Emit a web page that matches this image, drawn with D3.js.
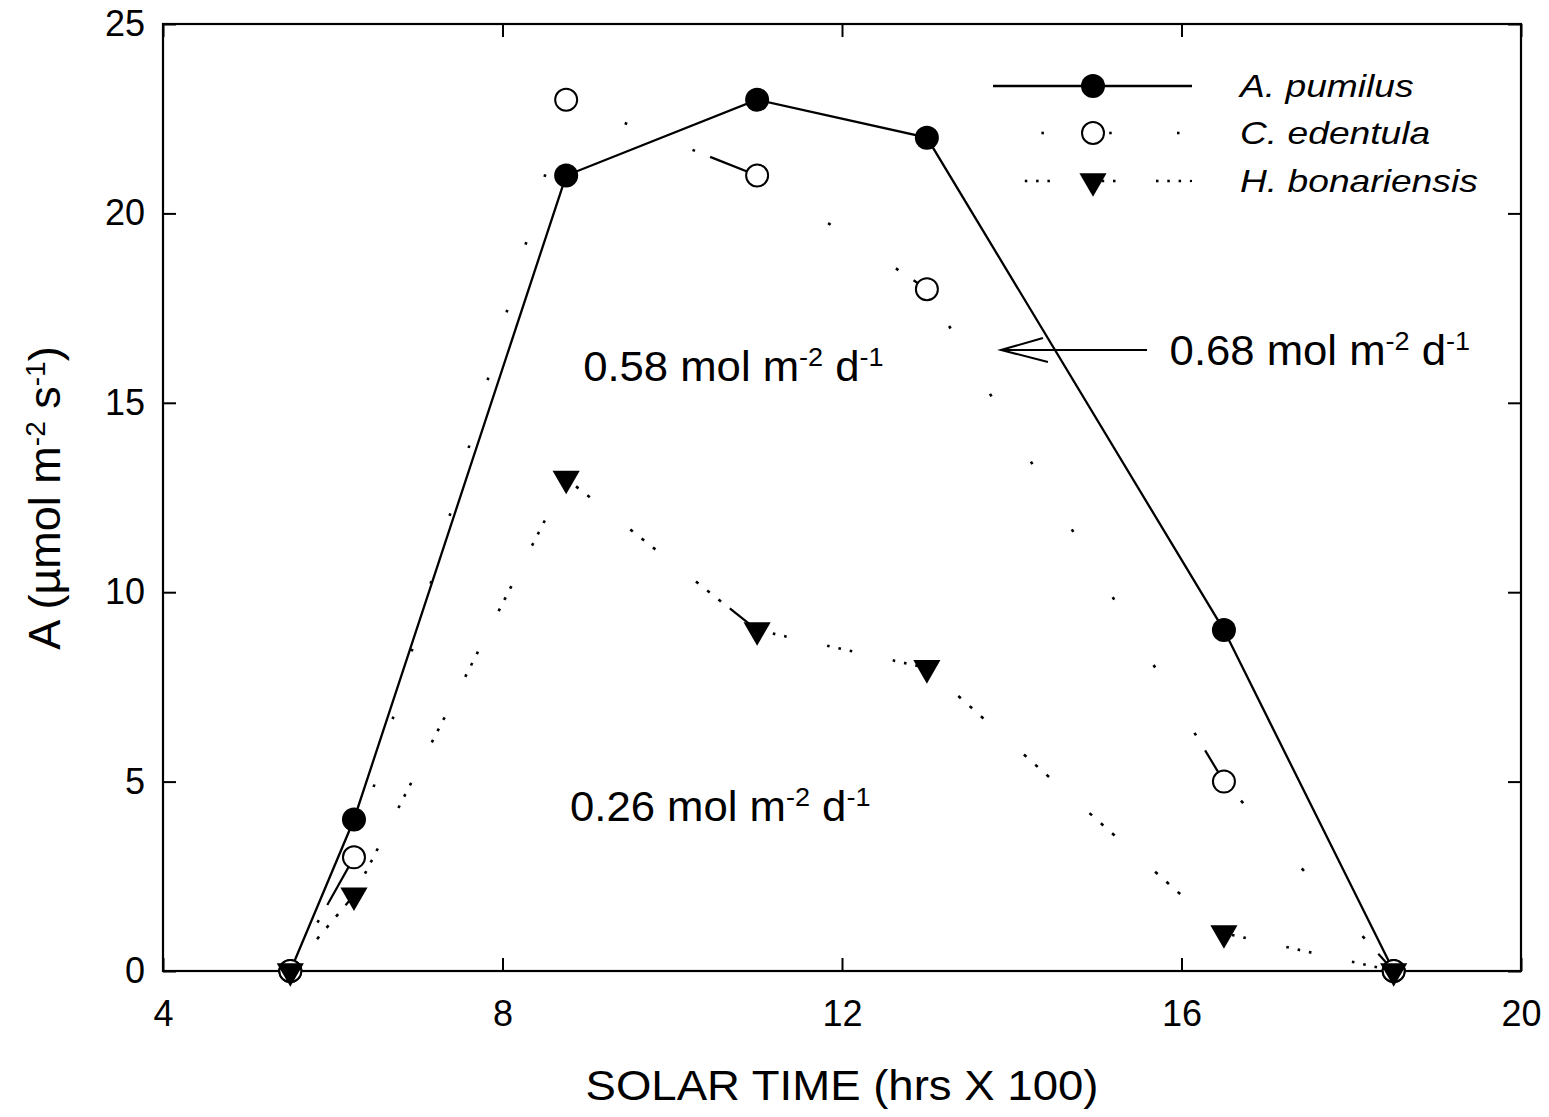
<!DOCTYPE html>
<html><head><meta charset="utf-8">
<script src="https://cdn.jsdelivr.net/npm/d3@7"></script>
<style>
body{margin:0;background:#fff}
svg{display:block}
text{font-family:"Liberation Sans", Arial, Helvetica, sans-serif; fill:#000}
</style>
</head><body>
<svg id="chart" width="1549" height="1117"></svg>
<script>
// ---- data ----
const solarTime = [5.5, 6.25, 8.75, 11, 13, 16.5, 18.5];
const aPumilus = [0, 4, 21, 23, 22, 9, 0];
const cEdentula = [0, 3, 23, 21, 18, 5, 0];
const hBonariensis = [0, 2, 13, 9, 8, 1, 0];
const seriesNames = ["A. pumilus", "C. edentula", "H. bonariensis"];
const xTicks = [4, 8, 12, 16, 20];
const yTicks = [0, 5, 10, 15, 20, 25];
const dailyTotals = ["0.58", "0.68", "0.26"];
const xTitle = "SOLAR TIME (hrs X 100)";

// ---- setup ----
const svg = d3.select("#chart");
const L = 163, R = 1521, T = 24, B = 971;
const X = d3.scaleLinear().domain([4, 20]).range([L, R]);
const Y = d3.scaleLinear().domain([0, 25]).range([B, T]);

// frame
svg.append("rect").attr("x", L).attr("y", T).attr("width", R - L).attr("height", B - T)
  .attr("fill", "none").attr("stroke", "#000").attr("stroke-width", 2.2);

function styleAxis(g, fontSize) {
  g.select(".domain").remove();
  g.selectAll(".tick line").attr("stroke", "#000").attr("stroke-width", 2);
  g.attr("font-family", null).attr("font-size", null);
  g.selectAll("text").style("font-size", fontSize + "px");
}
const tickLen = 13;
svg.append("g").attr("transform", `translate(0,${B})`)
  .call(d3.axisBottom(X).tickValues(xTicks).tickSizeInner(-tickLen).tickSizeOuter(0).tickPadding(29))
  .call(g => styleAxis(g, 36));
svg.append("g").attr("transform", `translate(${L},0)`)
  .call(d3.axisLeft(Y).tickValues(yTicks).tickSizeInner(-tickLen).tickSizeOuter(0).tickPadding(18))
  .call(g => styleAxis(g, 36));
svg.append("g").attr("transform", `translate(0,${T})`)
  .call(d3.axisTop(X).tickValues(xTicks).tickSizeInner(-tickLen).tickSizeOuter(0).tickFormat(""))
  .call(g => styleAxis(g, 36));
svg.append("g").attr("transform", `translate(${R},0)`)
  .call(d3.axisRight(Y).tickValues(yTicks).tickSizeInner(-tickLen).tickSizeOuter(0).tickFormat(""))
  .call(g => styleAxis(g, 36));

// ---- line patterns (measured along the major axis, like the original plotter) ----
const patC = {period: 67.8, phase: 48.4, dots: [0], dotLen: 2.5, solidFrom: 17.6};
const patH = {period: 65.6, phase: 31.8, dots: [0, 11.3, 22.6], dotLen: 2.5, solidFrom: 33.9};

function patterned(g, pts, pat, sw) {
  let s0 = 0;
  for (let i = 0; i < pts.length - 1; i++) {
    const [x0, y0] = pts[i], [x1, y1] = pts[i + 1];
    const dx = x1 - x0, dy = y1 - y0, M = Math.max(Math.abs(dx), Math.abs(dy));
    if (M === 0) continue;
    const ux = dx / M, uy = dy / M, s1 = s0 + M;
    const at = s => [x0 + ux * (s - s0), y0 + uy * (s - s0)];
    const seg = (a, b, dot) => {
      const p = at(a), q = at(b);
      g.append("line").attr("x1", p[0]).attr("y1", p[1]).attr("x2", q[0]).attr("y2", q[1])
        .attr("stroke", "#000").attr("stroke-width", dot ? sw + 0.4 : sw).attr("stroke-linecap", "butt");
    };
    let lastG = null;
    const kStart = Math.floor((s0 - pat.phase) / pat.period) - 1;
    for (let k = kStart; ; k++) {
      const gs = pat.phase + k * pat.period;
      if (gs >= s1) break;
      pat.dots.forEach(o => {
        const p = gs + o;
        if (p >= s0 && p < s1) seg(p, Math.min(p + pat.dotLen, s1), true);
      });
      lastG = gs;
    }
    if (lastG !== null && lastG + pat.solidFrom < s1) {
      seg(Math.max(s0, lastG + pat.solidFrom), s1, false);
    }
    s0 = s1;
  }
}

const lines = svg.append("g");
const ptsA = solarTime.map((t, i) => [X(t), Y(aPumilus[i])]);
const ptsC = solarTime.map((t, i) => [X(t), Y(cEdentula[i])]);
const ptsH = solarTime.map((t, i) => [X(t), Y(hBonariensis[i])]);

lines.append("path").attr("d", d3.line()(ptsA)).attr("fill", "none")
  .attr("stroke", "#000").attr("stroke-width", 2.3);
patterned(lines, ptsC, patC, 2.2);
patterned(lines, ptsH, patH, 2.2);

// ---- markers ----
const tri = d3.symbol().type(d3.symbolTriangle).size(320);
function markFilled(g, x, y) {
  g.append("circle").attr("cx", x).attr("cy", y).attr("r", 12).attr("fill", "#000");
}
function markOpen(g, x, y) {
  g.append("circle").attr("cx", x).attr("cy", y).attr("r", 11).attr("fill", "#fff")
    .attr("stroke", "#000").attr("stroke-width", 2);
}
function markTri(g, x, y) {
  g.append("path").attr("d", tri()).attr("transform", `translate(${x},${y}) rotate(180)`)
    .attr("fill", "#000");
}
const marks = svg.append("g");
ptsA.forEach(p => markFilled(marks, p[0], p[1]));
ptsC.forEach(p => markOpen(marks, p[0], p[1]));
ptsH.forEach(p => markTri(marks, p[0], p[1]));

// ---- legend ----
const lg = svg.append("g");
const lgX0 = 993, lgX1 = 1192, lgXm = 1093, lgTextX = 1240;
const rows = [86, 133, 181];
lg.append("line").attr("x1", lgX0).attr("x2", lgX1).attr("y1", rows[0]).attr("y2", rows[0])
  .attr("stroke", "#000").attr("stroke-width", 2.3);
patterned(lg, [[lgX0, rows[1]], [lgX1, rows[1]]], patC, 2.2);
patterned(lg, [[lgX0, rows[2]], [lgX1, rows[2]]], patH, 2.2);
markFilled(lg, lgXm, rows[0]);
markOpen(lg, lgXm, rows[1]);
markTri(lg, lgXm, rows[2]);
seriesNames.forEach((n, i) => {
  lg.append("text").attr("transform", `translate(${lgTextX},${rows[i] + 11}) scale(1.2,1)`)
    .style("font-size", "31px").style("font-style", "italic").text(n);
});

// ---- superscript text helper ----
function supText(g, x, y, parts, size, supSize, shift, sx, rotate) {
  const t = g.append("text")
    .attr("transform", `translate(${x},${y})` + (rotate ? ` rotate(${rotate})` : "") + ` scale(${sx},1)`)
    .style("font-size", size + "px");
  if (rotate) t.attr("text-anchor", "middle");
  let up = false;
  parts.forEach(p => {
    const ts = t.append("tspan").text(p.t);
    if (p.sup) { ts.style("font-size", supSize + "px").attr("dy", -shift); up = true; }
    else if (up) { ts.attr("dy", shift); up = false; }
  });
  return t;
}
const unitParts = v => [{t: v + " mol m"}, {t: "-2", sup: true}, {t: " d"}, {t: "-1", sup: true}];
const ann = svg.append("g");
supText(ann, X(8.95), Y(15.58), unitParts(dailyTotals[0]), 42, 26, 15, 1.04);
supText(ann, X(15.86), Y(16.0), unitParts(dailyTotals[1]), 42, 26, 15, 1.04);
supText(ann, X(8.795), Y(3.96), unitParts(dailyTotals[2]), 42, 26, 15, 1.04);

// arrow
const tipX = X(13.873), tipY = Y(16.394), tailX = X(15.594);
ann.append("line").attr("x1", tipX).attr("y1", tipY).attr("x2", tailX).attr("y2", tipY)
  .attr("stroke", "#000").attr("stroke-width", 2);
ann.append("path").attr("d", `M${tipX + 42},${tipY - 12} L${tipX},${tipY} L${tipX + 47},${tipY + 12}`)
  .attr("fill", "none").attr("stroke", "#000").attr("stroke-width", 2);

// ---- axis titles ----
svg.append("text").attr("x", (L + R) / 2).attr("y", 1100).attr("text-anchor", "middle")
  .style("font-size", "42px").attr("textLength", 513).attr("lengthAdjust", "spacingAndGlyphs")
  .text(xTitle);
supText(svg, 60, 498, [{t: "A (µmol m"}, {t: "-2", sup: true}, {t: " s"}, {t: "-1", sup: true}, {t: ")"}],
  45, 28, 15, 1, -90);
</script>
</body></html>
